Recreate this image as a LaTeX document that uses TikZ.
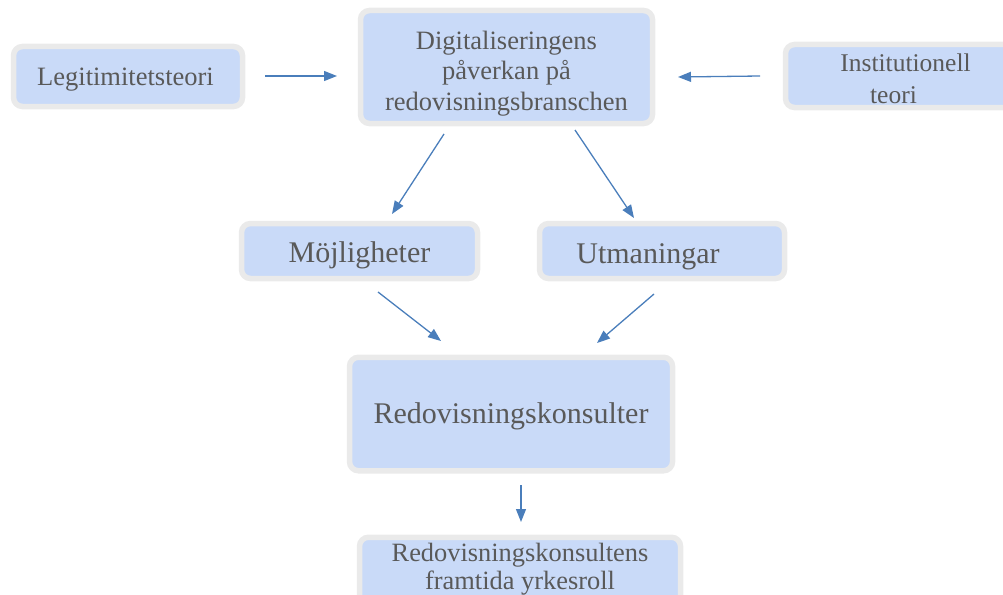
\documentclass[tikz,border=0pt]{standalone}
\usepackage{fontspec}
\setmainfont{Liberation Serif}
\usetikzlibrary{arrows.meta}
\definecolor{boxfill}{HTML}{C9DAF8}
\definecolor{boxedge}{HTML}{EAEAEA}
\definecolor{txt}{HTML}{595959}
\definecolor{arr}{HTML}{4A7EBB}
\newcommand{\lowtext}[2]{\raisebox{-#1}[\height][\depth]{\begin{tabular}{@{}c@{}}#2\end{tabular}}}
\begin{document}
\begin{tikzpicture}[x=1pt,y=-1pt,
  box/.style={draw=boxedge, line width=5.5pt, fill=boxfill, rounded corners=9pt,
    inner sep=0pt, text=txt},
  conn/.style={draw=arr, line width=1.3pt, -{Triangle[length=13pt,width=10pt]}}]
\useasboundingbox (0,0) rectangle (1003,594);
\clip (0,0) rectangle (1003,594);
\node[box, minimum width=229pt, minimum height=60pt, font=\fontsize{26.5}{30}\selectfont] (legit) at (128,76.5) {\lowtext{3pt}{Legitimitetsteori\hspace*{5pt}}};
\node[box, minimum width=292pt, minimum height=113pt, font=\fontsize{26.5}{30.5}\selectfont] (digi) at (506.5,67) {\lowtext{6.5pt}{Digitaliseringens\\påverkan på\\redovisningsbranschen}};
\node[box, minimum width=240pt, minimum height=59pt, font=\fontsize{25.5}{31.5}\selectfont] (inst) at (905.5,76) {\lowtext{5pt}{Institutionell\\teori\hspace*{24pt}}};
\node[box, minimum width=236pt, minimum height=55pt, font=\fontsize{30}{34}\selectfont] (moj) at (359.5,251) {\lowtext{5pt}{Möjligheter}};
\node[box, minimum width=245pt, minimum height=55pt, font=\fontsize{30}{34}\selectfont] (utm) at (662,251) {\lowtext{6pt}{Utmaningar\hspace*{28pt}}};
\node[box, minimum width=323pt, minimum height=113.5pt, font=\fontsize{30}{34}\selectfont] (kons) at (511,414) {\lowtext{3pt}{Redovisningskonsulter}};
\node[box, minimum width=321pt, minimum height=76pt, font=\fontsize{26.4}{28}\selectfont, anchor=north] (roll) at (520,534.5) {\lowtext{-5.5pt}{Redovisningskonsultens\\framtida yrkesroll}};
% connector end points
\coordinate (a1s) at (265,76);  \coordinate (a1e) at (337,76);
\coordinate (a2s) at (760,76);  \coordinate (a2e) at (678,77);
\coordinate (a3s) at (444,134); \coordinate (a3e) at (392,214);
\coordinate (a4s) at (575,130); \coordinate (a4e) at (634,218);
\coordinate (a5s) at (378,292); \coordinate (a5e) at (441,341);
\coordinate (a6s) at (654,294); \coordinate (a6e) at (597,343);
\coordinate (a7s) at (521,485); \coordinate (a7e) at (521,522);
\draw[conn] (a1s) -- (a1e);
\draw[conn] (a2s) -- (a2e);
\draw[conn] (a3s) -- (a3e);
\draw[conn] (a4s) -- (a4e);
\draw[conn] (a5s) -- (a5e);
\draw[conn] (a6s) -- (a6e);
\draw[conn] (a7s) -- (a7e);
\end{tikzpicture}
\end{document}
